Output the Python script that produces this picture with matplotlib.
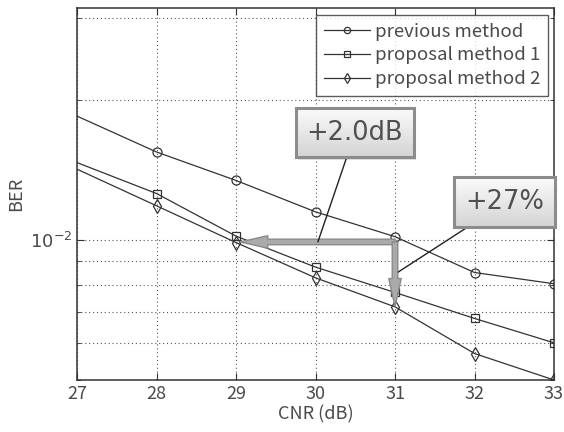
import numpy as np
import matplotlib
matplotlib.use("Agg")
import matplotlib.pyplot as plt
from matplotlib.ticker import NullFormatter, FixedLocator
from matplotlib.patches import FancyBboxPatch, FancyArrowPatch

plt.rcParams['font.family'] = ['Noto Sans CJK JP', 'DejaVu Sans']
plt.rcParams['mathtext.fontset'] = 'dejavusans'

# ---- data ----
cnr = [27, 28, 29, 30, 31, 32, 33]
ber_previous = [1.845e-2, 1.545e-2, 1.342e-2, 1.149e-2, 1.016e-2, 8.51e-3, 8.05e-3]
ber_proposal1 = [1.466e-2, 1.258e-2, 1.019e-2, 8.74e-3, 7.71e-3, 6.78e-3, 6.01e-3]
ber_proposal2 = [1.419e-2, 1.184e-2, 9.87e-3, 8.29e-3, 7.18e-3, 5.70e-3, 5.00e-3]
series_labels = ["previous method", "proposal method 1", "proposal method 2"]
xticks = [27, 28, 29, 30, 31, 32, 33]
gain_db_text = "+2.0dB"
gain_pct_text = "+27%"
ref_ber = 0.99e-2       # level of horizontal arrow
arrow_from_x = 31
arrow_to_x = 29.05
arrow_to_ber = 7.2e-3

fig = plt.figure(figsize=(5.64, 4.32), dpi=100)
ax = fig.add_axes([77/564, 52/432, 477/564, 372/432])

lc = '#333333'
ms_idx = list(range(1, len(cnr)))
ax.plot(cnr, ber_previous, '-', color=lc, lw=0.9, marker='o', ms=6.5, mfc='none',
        mec=lc, mew=0.9, markevery=ms_idx, label=series_labels[0])
ax.plot(cnr, ber_proposal1, '-', color=lc, lw=0.9, marker='s', ms=6, mfc='none',
        mec=lc, mew=0.9, markevery=ms_idx, label=series_labels[1])
ax.plot(cnr, ber_proposal2, '-', color=lc, lw=0.9, marker='d', ms=7, mfc='none',
        mec=lc, mew=0.9, markevery=ms_idx, label=series_labels[2])

ax.set_yscale('log')
ax.set_xlim(27, 33)
ax.set_ylim(5e-3, 3.15e-2)
ax.set_xticks(xticks)
ax.set_xticklabels([str(t) for t in xticks])
ax.yaxis.set_major_locator(FixedLocator([1e-2]))
ax.yaxis.set_minor_locator(FixedLocator([5e-3, 6e-3, 7e-3, 8e-3, 9e-3, 2e-2, 3e-2]))
ax.yaxis.set_minor_formatter(NullFormatter())
ax.set_yticklabels([r'$10^{-2}$'])

ax.grid(True, which='both', axis='y', linestyle=(0, (1, 2.5)), color='#555555', lw=0.8)
ax.grid(True, which='major', axis='x', linestyle=(0, (1, 2.5)), color='#555555', lw=0.8)
ax.tick_params(which='both', direction='in', top=True, right=True, labelsize=13,
               colors='#333333', labelcolor='#4a4a4a')
ax.tick_params(which='major', length=5)
ax.tick_params(which='minor', length=3)
for s in ax.spines.values():
    s.set_color('#333333')
    s.set_linewidth(1.1)

ax.set_xlabel('CNR (dB)', fontsize=13, color='#4a4a4a', labelpad=2)
ax.set_ylabel('BER', fontsize=13, color='#4a4a4a', labelpad=3)

leg = ax.legend(loc='upper right', bbox_to_anchor=(0.9874, 0.981), borderaxespad=0,
                fontsize=13.4, frameon=True, fancybox=False, handlelength=2.5,
                handletextpad=0.25, labelspacing=0.3, borderpad=0.42,
                markerscale=0.7)
leg.get_frame().set_edgecolor('#333333')
leg.get_frame().set_linewidth(1.0)
for t in leg.get_texts():
    t.set_color('#4a4a4a')

# ---- arrows ----
arr_kw = dict(arrowstyle='simple,head_length=20,head_width=9,tail_width=4',
              mutation_scale=1, fc='#aaaaaa', ec='#8a8a8a', lw=1, zorder=5,
              shrinkA=0, shrinkB=0)
ax.add_patch(FancyArrowPatch((arrow_from_x, ref_ber), (arrow_to_x, ref_ber), **arr_kw))
ax.add_patch(FancyArrowPatch((arrow_from_x, ref_ber), (arrow_from_x, arrow_to_ber), **arr_kw))

# ---- callout boxes with gradient ----
def callout(x0, y0, x1, y1, text):
    shadow = FancyBboxPatch((x0 + 0.004, y0 - 0.006), x1 - x0, y1 - y0,
                            boxstyle='square,pad=0', transform=ax.transAxes,
                            fc='#cccccc', ec='none', alpha=0.6, zorder=6, clip_on=False)
    ax.add_patch(shadow)
    box = FancyBboxPatch((x0, y0), x1 - x0, y1 - y0, boxstyle='square,pad=0',
                         transform=ax.transAxes, fc='none', ec='#8c8c8c', lw=2.2,
                         zorder=8, clip_on=False)
    ax.add_patch(box)
    grad = np.linspace(0, 1, 64).reshape(-1, 1)
    ax.imshow(grad, cmap=matplotlib.colors.LinearSegmentedColormap.from_list(
        'g', ['#d4d4d4', '#fbfbfb']), extent=(x0, x1, y0, y1), origin='lower',
        transform=ax.transAxes, aspect='auto', zorder=7, clip_on=False)
    ax.text((x0 + x1) / 2, (y0 + y1) / 2, text, transform=ax.transAxes,
            ha='center', va='center', fontsize=18.5, color='#505050',
            family='DejaVu Sans', zorder=9)

callout(0.459, 0.5987, 0.7065, 0.731, gain_db_text)
callout(0.791, 0.412, 1.002, 0.545, gain_pct_text)
ax.set_xlim(27, 33)
ax.set_ylim(5e-3, 3.15e-2)

# connector lines
ax.annotate('', xy=(30.03, ref_ber), xycoords='data', xytext=(0.5654, 0.5987),
            textcoords='axes fraction',
            arrowprops=dict(arrowstyle='-', color='#222222', lw=1, shrinkA=0, shrinkB=0),
            zorder=6)
ax.annotate('', xy=(31.04, 8.53e-3), xycoords='data', xytext=(0.820, 0.412),
            textcoords='axes fraction',
            arrowprops=dict(arrowstyle='-', color='#222222', lw=1, shrinkA=0, shrinkB=0),
            zorder=6)

fig.savefig('out.png', dpi=100)
